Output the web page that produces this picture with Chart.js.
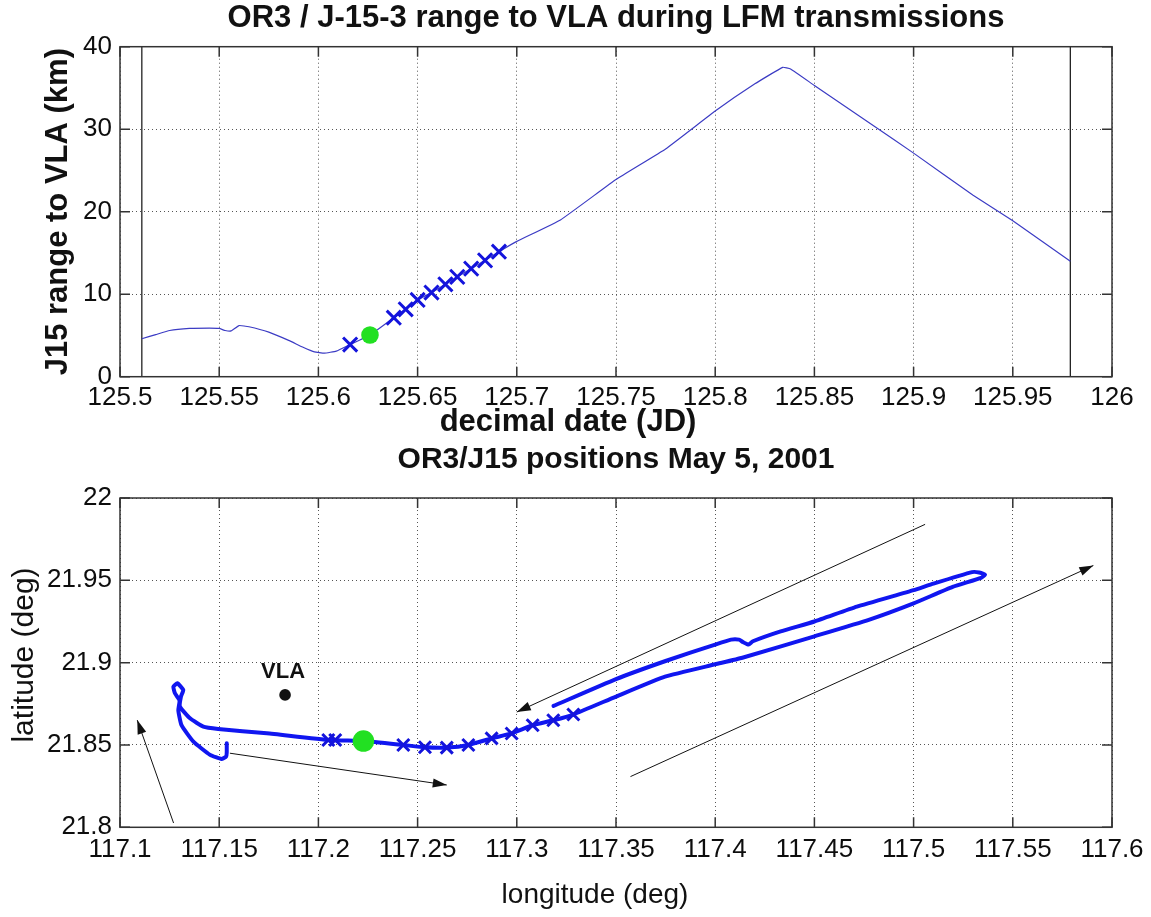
<!DOCTYPE html>
<html>
<head>
<meta charset="utf-8">
<title>OR3 / J15 range and positions</title>
<script src="https://cdn.jsdelivr.net/npm/chart.js@4.4.1/dist/chart.umd.min.js"></script>
<style>
  html, body { margin: 0; padding: 0; background: #fff; }
  #wrap { position: relative; width: 1151px; height: 917px; }
  canvas { position: absolute; left: 0; }
  #rangeChart { top: 0; }
  #trackChart { top: 440px; }
</style>
</head>
<body>
<div id="wrap">
  <canvas id="rangeChart" width="1151" height="440"></canvas>
  <canvas id="trackChart" width="1151" height="477"></canvas>
</div>
<script>
// --- range to VLA vs decimal date ---
const rangeDates = [125.511, 125.518, 125.525, 125.535, 125.545, 125.550, 125.553, 125.556, 125.560,
  125.565, 125.575, 125.585, 125.592, 125.598, 125.603, 125.609, 125.616, 125.626, 125.638, 125.644,
  125.650, 125.657, 125.664, 125.670, 125.677, 125.684, 125.691, 125.700, 125.722, 125.750, 125.775,
  125.800, 125.820, 125.834, 125.838, 125.850, 125.880, 125.900, 125.930, 125.950, 125.979];
const rangeKm = [4.6, 5.1, 5.6, 5.85, 5.9, 5.85, 5.6, 5.55, 6.2,
  6.05, 5.4, 4.4, 3.6, 3.0, 2.85, 3.1, 3.9, 5.05, 7.15, 8.17,
  9.3, 10.2, 11.2, 12.1, 13.1, 14.1, 15.15, 16.4, 19.0, 23.9, 27.6,
  32.2, 35.5, 37.5, 37.3, 35.3, 30.4, 27.1, 22.0, 18.9, 14.0];
const pingDates = [125.616, 125.638, 125.644, 125.650, 125.657, 125.664, 125.670, 125.677, 125.684, 125.691];
const pingRange = [3.9, 7.15, 8.17, 9.3, 10.2, 11.2, 12.1, 13.1, 14.1, 15.15];
const fixDate = [125.626];
const fixRange = [5.05];
const windowEdges = [125.511, 125.979];
const dateTicks = [125.5, 125.55, 125.6, 125.65, 125.7, 125.75, 125.8, 125.85, 125.9, 125.95, 126];
const dateTickLabels = ['125.5', '125.55', '125.6', '125.65', '125.7', '125.75', '125.8', '125.85', '125.9', '125.95', '126'];
const rangeTicks = [0, 10, 20, 30, 40];
const rangeTickLabels = ['0', '10', '20', '30', '40'];

// --- ship track, lon/lat ---
const trackLon = [117.1538, 117.1538, 117.1535, 117.1512, 117.1454, 117.1370, 117.1310, 117.1294, 117.1300,
  117.1277, 117.1269, 117.1289, 117.1319, 117.1307, 117.1302, 117.1353, 117.1420, 117.1495, 117.1740,
  117.2058, 117.2227, 117.2428, 117.2537, 117.2647, 117.2756, 117.2873, 117.2974, 117.3080, 117.3184,
  117.3285, 117.3500, 117.3747, 117.4000, 117.4137, 117.4500, 117.4774, 117.5000, 117.5197, 117.5340,
  117.5360, 117.5330, 117.5295, 117.5100, 117.5000, 117.4714, 117.4500, 117.4330, 117.4190, 117.4168,
  117.4140, 117.4120, 117.4080, 117.4000, 117.3750, 117.3500, 117.3185];
const trackLat = [21.8510, 21.8455, 21.8430, 21.8415, 21.8440, 21.8520, 21.8620, 21.8710, 21.8770,
  21.8814, 21.8854, 21.8875, 21.8834, 21.8793, 21.8733, 21.8662, 21.8611, 21.8597, 21.8571,
  21.8530, 21.8524, 21.8500, 21.8486, 21.8484, 21.8500, 21.8540, 21.8570, 21.8620, 21.8650,
  21.8685, 21.8794, 21.8915, 21.8990, 21.9030, 21.9160, 21.9260, 21.9360, 21.9460, 21.9515,
  21.9535, 21.9548, 21.9550, 21.9480, 21.9440, 21.9340, 21.9250, 21.9190, 21.9130, 21.9110,
  21.9125, 21.9140, 21.9140, 21.9110, 21.9010, 21.8900, 21.8737];
const pingLon = [117.2050, 117.2085, 117.2428, 117.2537, 117.2647, 117.2756, 117.2873, 117.2974, 117.3080, 117.3184, 117.3285];
const pingLat = [21.8530, 21.8530, 21.8500, 21.8486, 21.8484, 21.8500, 21.8540, 21.8570, 21.8620, 21.8650, 21.8685];
const fixLon = [117.2227];
const fixLat = [21.8524];
const vlaLon = [117.1832];
const vlaLat = [21.8804];
const arrowTailLon = [117.1270, 117.1554, 117.5058, 117.3573];
const arrowTailLat = [21.8026, 21.8450, 21.9840, 21.8308];
const arrowHeadLon = [117.1087, 117.2647, 117.3000, 117.5906];
const arrowHeadLat = [21.8651, 21.8257, 21.8700, 21.9590];
const lonTicks = [117.1, 117.15, 117.2, 117.25, 117.3, 117.35, 117.4, 117.45, 117.5, 117.55, 117.6];
const lonTickLabels = ['117.1', '117.15', '117.2', '117.25', '117.3', '117.35', '117.4', '117.45', '117.5', '117.55', '117.6'];
const latTicks = [21.8, 21.85, 21.9, 21.95, 22];
const latTickLabels = ['21.8', '21.85', '21.9', '21.95', '22'];

const FONT = "'Liberation Sans', Arial, sans-serif";
Chart.defaults.font.family = FONT;
Chart.defaults.color = '#111';

function pointsOf(xs, ys) {
  return xs.map((x, i) => ({ x: x, y: ys[i] }));
}

// linear axis with fixed ticks, dotted grid and a fixed box size
function axis(ticks, labels, pad, boxSize, horizontal) {
  return {
    type: 'linear',
    min: ticks[0],
    max: ticks[ticks.length - 1],
    afterBuildTicks: s => { s.ticks = ticks.map(v => ({ value: v })); },
    afterFit: s => { if (horizontal) s.height = boxSize; else s.width = boxSize; },
    ticks: {
      callback: (v, i) => labels[i],
      font: { size: 26 },
      color: '#0d0d0d',
      padding: pad,
      autoSkip: false,
      maxRotation: 0
    },
    grid: { color: '#555', lineWidth: 1, drawTicks: false },
    border: { display: false, dash: [1, 3] }
  };
}

// box around the axes with inward tick marks on all four sides
const axesBox = {
  id: 'axesBox',
  afterDatasetsDraw(chart) {
    const { ctx, chartArea: a, scales } = chart;
    ctx.save();
    ctx.strokeStyle = '#333';
    ctx.lineWidth = 1.5;
    ctx.strokeRect(a.left, a.top, a.right - a.left, a.bottom - a.top);
    ctx.beginPath();
    scales.x.ticks.forEach(t => {
      const px = scales.x.getPixelForValue(t.value);
      ctx.moveTo(px, a.bottom); ctx.lineTo(px, a.bottom - 10);
      ctx.moveTo(px, a.top); ctx.lineTo(px, a.top + 10);
    });
    scales.y.ticks.forEach(t => {
      const py = scales.y.getPixelForValue(t.value);
      ctx.moveTo(a.left, py); ctx.lineTo(a.left + 10, py);
      ctx.moveTo(a.right, py); ctx.lineTo(a.right - 10, py);
    });
    ctx.stroke();
    ctx.restore();
  }
};

// filled heads on datasets flagged as arrows
const arrowHeads = {
  id: 'arrowHeads',
  afterDatasetsDraw(chart) {
    const ctx = chart.ctx;
    chart.data.datasets.forEach((ds, i) => {
      if (!ds.arrow) return;
      const pts = chart.getDatasetMeta(i).data;
      const p0 = pts[pts.length - 2], p1 = pts[pts.length - 1];
      const ang = Math.atan2(p1.y - p0.y, p1.x - p0.x);
      ctx.save();
      ctx.translate(p1.x, p1.y);
      ctx.rotate(ang);
      ctx.beginPath();
      ctx.moveTo(0, 0);
      ctx.lineTo(-14, -4.5);
      ctx.lineTo(-14, 4.5);
      ctx.closePath();
      ctx.fillStyle = ds.borderColor;
      ctx.fill();
      ctx.restore();
    });
  }
};

// titles and axis labels
function captions(items) {
  return {
    id: 'captions',
    afterDraw(chart) {
      const ctx = chart.ctx;
      items.forEach(it => {
        const [x, y] = it.at(chart);
        ctx.save();
        ctx.translate(x, y);
        if (it.rotate) ctx.rotate(it.rotate);
        ctx.font = it.font;
        ctx.fillStyle = '#111';
        ctx.textAlign = 'center';
        ctx.textBaseline = 'middle';
        ctx.fillText(it.text, 0, 0);
        ctx.restore();
      });
    }
  };
}

const baseOptions = (padTop) => ({
  responsive: false,
  animation: false,
  events: [],
  layout: { padding: { top: padTop, right: 39, left: 0, bottom: 0 } },
  plugins: { legend: { display: false }, tooltip: { enabled: false }, title: { display: false } }
});

// top: range to VLA
new Chart(document.getElementById('rangeChart'), {
  type: 'scatter',
  data: {
    datasets: [
      { data: pointsOf(pingDates, pingRange), pointStyle: 'crossRot', pointRadius: 10,
        borderColor: '#1414dc', borderWidth: 3, order: 0 },
      { data: pointsOf(fixDate, fixRange), pointStyle: 'circle', pointRadius: 8.8,
        backgroundColor: '#22e022', borderColor: '#22e022', borderWidth: 0, order: 0 },
      { data: pointsOf(rangeDates, rangeKm), showLine: true, borderColor: '#3c3cc4',
        borderWidth: 1.2, pointRadius: 0, tension: 0.1, order: 1 },
      { data: pointsOf([windowEdges[0], windowEdges[0]], [rangeTicks[0], rangeTicks[rangeTicks.length - 1]]),
        showLine: true, borderColor: '#222', borderWidth: 1.3, pointRadius: 0, order: 2 },
      { data: pointsOf([windowEdges[1], windowEdges[1]], [rangeTicks[0], rangeTicks[rangeTicks.length - 1]]),
        showLine: true, borderColor: '#222', borderWidth: 1.3, pointRadius: 0, order: 2 }
    ]
  },
  options: Object.assign(baseOptions(46.7), {
    scales: {
      x: axis(dateTicks, dateTickLabels, 6, 63.3, true),
      y: axis(rangeTicks, rangeTickLabels, 8, 120, false)
    }
  }),
  plugins: [axesBox, captions([
    { text: 'OR3 / J-15-3 range to VLA during LFM transmissions', font: 'bold 31px ' + FONT,
      at: c => [(c.chartArea.left + c.chartArea.right) / 2, 18] },
    { text: 'decimal date (JD)', font: 'bold 31px ' + FONT, at: c => [568, 422] },
    { text: 'J15 range to VLA (km)', font: 'bold 31px ' + FONT, rotate: -Math.PI / 2,
      at: c => [58, (c.chartArea.top + c.chartArea.bottom) / 2] }
  ])]
});

// bottom: positions
const arrowSets = arrowTailLon.map((lon, i) => ({
  data: pointsOf([lon, arrowHeadLon[i]], [arrowTailLat[i], arrowHeadLat[i]]),
  showLine: true, borderColor: '#111', borderWidth: 1, pointRadius: 0, order: 3, arrow: true
}));

new Chart(document.getElementById('trackChart'), {
  type: 'scatter',
  data: {
    datasets: [
      { data: pointsOf(pingLon, pingLat), pointStyle: 'crossRot', pointRadius: 8.5,
        borderColor: '#1414dc', borderWidth: 3, order: 0 },
      { data: pointsOf(fixLon, fixLat), pointStyle: 'circle', pointRadius: 10.8,
        backgroundColor: '#22e022', borderColor: '#22e022', borderWidth: 0, order: 0 },
      { data: pointsOf(vlaLon, vlaLat), pointStyle: 'circle', pointRadius: 5.8,
        backgroundColor: '#111', borderColor: '#111', borderWidth: 0, order: 0 },
      { data: pointsOf(trackLon, trackLat), showLine: true, borderColor: '#1016f0',
        borderWidth: 4, pointRadius: 0, tension: 0.15, borderJoinStyle: 'round',
        borderCapStyle: 'round', order: 2 }
    ].concat(arrowSets)
  },
  options: Object.assign(baseOptions(58), {
    scales: {
      x: axis(lonTicks, lonTickLabels, 7, 89.7, true),
      y: axis(latTicks, latTickLabels, 8, 120, false)
    }
  }),
  plugins: [axesBox, arrowHeads, captions([
    { text: 'OR3/J15 positions May 5, 2001', font: 'bold 30px ' + FONT,
      at: c => [(c.chartArea.left + c.chartArea.right) / 2, 20] },
    { text: 'longitude (deg)', font: '28px ' + FONT, at: c => [595, 455] },
    { text: 'latitude (deg)', font: '30px ' + FONT, rotate: -Math.PI / 2, at: c => [25, 215] },
    { text: 'VLA', font: 'bold 22px ' + FONT,
      at: c => [c.scales.x.getPixelForValue(vlaLon[0]) - 2, c.scales.y.getPixelForValue(vlaLat[0]) - 23] }
  ])]
});
</script>
</body>
</html>
